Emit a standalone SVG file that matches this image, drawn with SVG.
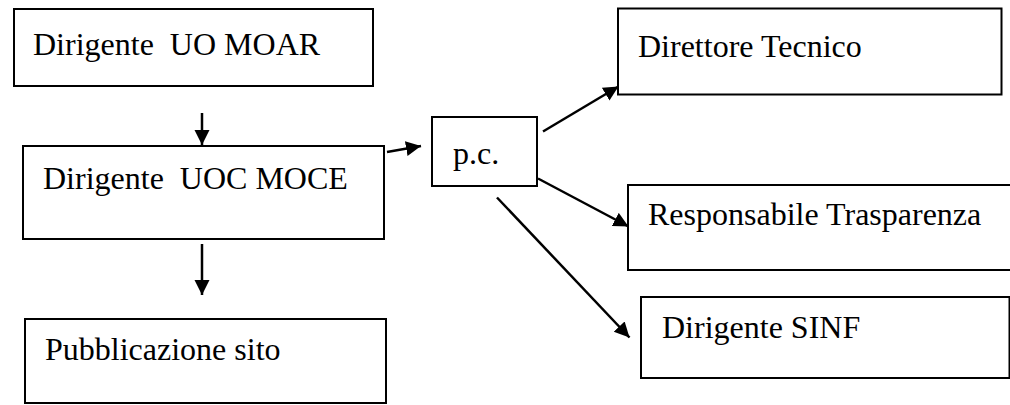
<svg xmlns="http://www.w3.org/2000/svg" width="1010" height="405" viewBox="0 0 1010 405">
<style>
.box{fill:#fff;stroke:#000;stroke-width:2}
.lbl{font-family:'Liberation Serif','Times New Roman',Times,'DejaVu Serif',serif;font-size:32px;fill:#000;white-space:pre}
.arr{stroke:#000;stroke-width:2.5;fill:none;marker-end:url(#ah)}
</style>
<defs>
<marker id="ah" markerUnits="userSpaceOnUse" markerWidth="16" markerHeight="16" viewBox="0 0 16 16" refX="15" refY="7.5" orient="auto">
<path d="M0,0 L15,7.5 L0,15 Z" fill="#000"/>
</marker>
</defs>
<rect width="1010" height="405" fill="#fff"/>
<g id="n-moar"><rect class="box" x="14" y="9" width="359" height="77"/><text class="lbl" font-family="Liberation Serif, serif" x="33" y="55" xml:space="preserve">Dirigente  UO MOAR</text></g>
<g id="n-moce"><rect class="box" x="23" y="146" width="361" height="93"/><text class="lbl" font-family="Liberation Serif, serif" x="43" y="189" xml:space="preserve">Dirigente  UOC MOCE</text></g>
<g id="n-pub"><rect class="box" x="25" y="319" width="361" height="84"/><text class="lbl" font-family="Liberation Serif, serif" x="45" y="360">Pubblicazione sito</text></g>
<g id="n-pc"><rect class="box" x="432" y="117" width="105" height="69"/><text class="lbl" font-family="Liberation Serif, serif" x="453" y="164">p.c.</text></g>
<g id="n-dt"><rect class="box" x="618" y="8.5" width="383.5" height="86"/><text class="lbl" font-family="Liberation Serif, serif" x="638" y="56.5">Direttore Tecnico</text></g>
<g id="n-rt"><rect class="box" x="628" y="185" width="400" height="85"/><text class="lbl" font-family="Liberation Serif, serif" x="648" y="225">Responsabile Trasparenza</text></g>
<g id="n-sinf"><rect class="box" x="641" y="297" width="368.5" height="81"/><text class="lbl" font-family="Liberation Serif, serif" x="662" y="338">Dirigente SINF</text></g>
<g id="connectors">
<line class="arr" x1="202" y1="113" x2="202" y2="145"/>
<line class="arr" x1="202" y1="244" x2="202" y2="295"/>
<line class="arr" x1="387" y1="152" x2="421" y2="146"/>
<line class="arr" x1="543" y1="131.5" x2="618.5" y2="86.5"/>
<line class="arr" x1="538" y1="178.5" x2="628.5" y2="226.5"/>
<line class="arr" x1="497" y1="197.5" x2="629.5" y2="337.5"/>
</g>
</svg>
